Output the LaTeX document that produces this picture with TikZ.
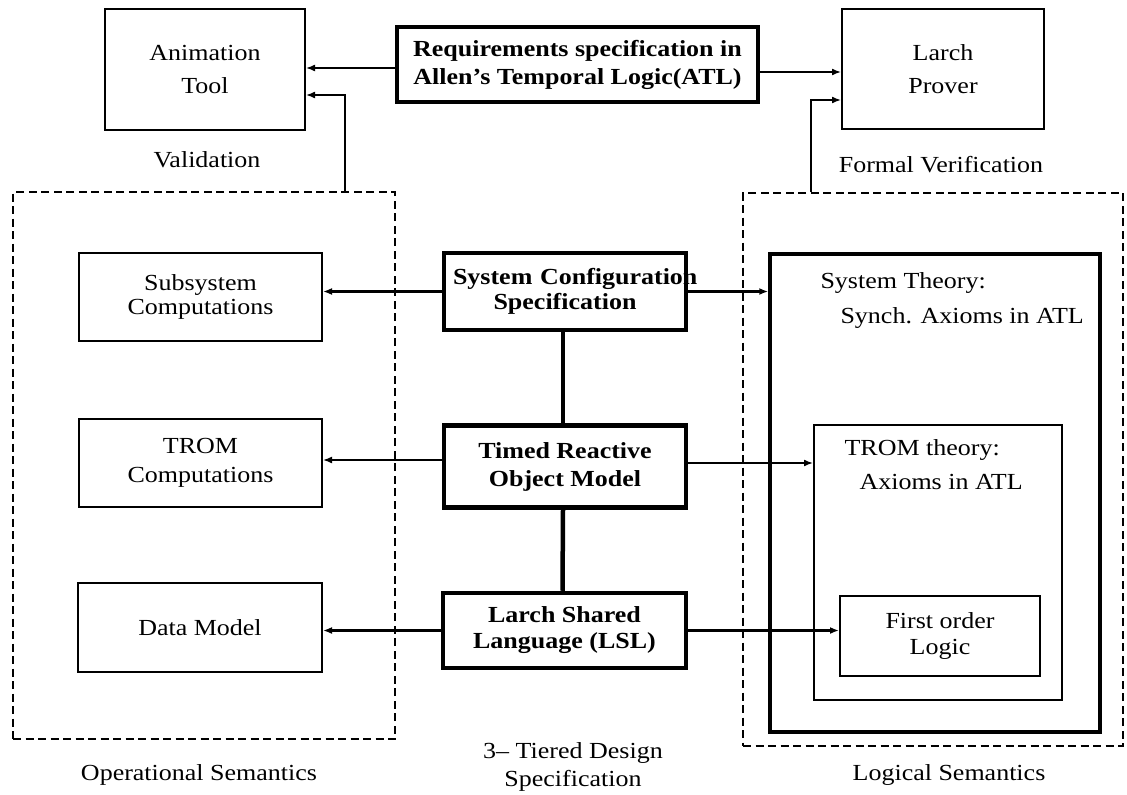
\documentclass[tikz,border=0pt]{standalone}
\usepackage{fontspec}
\setmainfont{Liberation Serif}[FakeStretch=1.13]
\usetikzlibrary{arrows.meta}

\begin{document}
\begin{tikzpicture}[x=1pt,y=-1pt,
  every node/.style={font=\fontsize{23}{25}\selectfont},
  lead/.style={font=\fontsize{23}{#1}\selectfont},
  blead/.style={font=\fontsize{23}{#1}\selectfont\bfseries},
  box/.style={draw,line width=2pt,align=center,inner sep=0pt},
  bbox/.style={box,line width=4.5pt},
  region/.style={draw,line width=2.4pt,dash pattern=on 8pt off 4.5pt,inner sep=0pt},
  conn/.style={line width=1.6pt,-{Latex[length=9pt,width=7pt]}},
  hconn/.style={conn,line width=3.4pt},
  mconn/.style={conn,line width=2.8pt},
  link/.style={line width=4.5pt}
]
\useasboundingbox (0,0) rectangle (1127,795);

% top row: tools and the requirements specification
\node[box,lead=33,minimum width=200pt,minimum height=121pt] (anim) at (205,69.5) {Animation\\Tool};
\node[bbox,blead=28,minimum width=361pt,minimum height=75pt] (req) at (577.5,64.5) {Requirements specification in\\Allen's Temporal Logic(ATL)};
\node[box,lead=33,minimum width=202pt,minimum height=120pt] (larch) at (943,69) {Larch\\Prover};
\node (val) at (207,160) {Validation};
\node (fv) at (941,165) {Formal Verification};

% semantic regions
\node[region,minimum width=382pt,minimum height=547pt] (opsem) at (204,465.5) {};
\node[region,minimum width=380pt,minimum height=553pt] (logsem) at (933,469.5) {};

% operational semantics
\node[box,lead=24,minimum width=243pt,minimum height=88pt] (subsys) at (200.5,297) {Subsystem\\Computations};
\node[box,lead=29,minimum width=243pt,minimum height=88pt] (tromc) at (200.5,463) {TROM\\Computations};
\node[box,minimum width=244pt,minimum height=89pt] (data) at (200,627.5) {Data Model};

% three tiers of the design specification
\node[bbox,blead=25,minimum width=242pt,minimum height=77pt,text width=224pt] (syscfg) at (565,291.5) {\hbox{System Configuration}\\Specification};
\node[bbox,blead=28,minimum width=242pt,minimum height=82pt] (timed) at (565,466.5) {Timed Reactive\\Object Model};
\node[bbox,blead=26,minimum width=243pt,minimum height=75pt] (lsl) at (564.5,630.5) {Larch Shared\\Language (LSL)};

% logical semantics: nested theories
\node[box,line width=3.5pt,minimum width=330pt,minimum height=478pt] (systh) at (935,493) {};
\node[box,minimum width=248pt,minimum height=275pt] (tromth) at (938,562.5) {};
\node[box,lead=26,minimum width=200pt,minimum height=80pt] (fol) at (940,636) {First order\\Logic};
\node[anchor=west] (st1) at (817,283) {System Theory:};
\node[anchor=west] (st2) at (837,318) {Synch. Axioms in ATL};
\node[anchor=west] (tt1) at (841,450) {TROM theory:};
\node[anchor=west] (tt2) at (856,482) {Axioms in ATL};

% captions
\node (ops) at (199,775) {Operational Semantics};
\node[align=center,lead=28] (tier) at (573,767) {3-- Tiered Design\\Specification};
\node (logs) at (949,775) {Logical Semantics};

% connectors of the top row
\coordinate (r1) at ([yshift=-3.5pt]req.west);
\draw[conn] (r1) -- (r1 -| anim.east);
\coordinate (r2) at ([yshift=-7.5pt]req.east);
\draw[conn] (r2) -- (r2 -| larch.west);
\coordinate (v1) at ([xshift=141pt]opsem.north);
\coordinate (v1e) at ([yshift=-25.5pt]anim.east);
\draw[conn] (v1) |- (v1e);
\coordinate (v2) at ([xshift=-122pt]logsem.north);
\coordinate (v2e) at ([yshift=-31pt]larch.west);
\draw[conn] (v2) |- (v2e);

% connectors of the tiers
\draw[hconn] (syscfg.west) -- (syscfg.west -| subsys.east);
\draw[hconn] (syscfg.east) -- (syscfg.east -| systh.west);
\coordinate (t1) at ([yshift=6.5pt]timed.west);
\draw[conn] (t1) -- (t1 -| tromc.east);
\coordinate (t2) at ([yshift=3.5pt]timed.east);
\draw[conn] (t2) -- (t2 -| tromth.west);
\draw[mconn] (lsl.west) -- (lsl.west -| data.east);
\draw[mconn] (lsl.east) -- (lsl.east -| fol.west);
\draw[link] ([xshift=-2pt]syscfg.south) -- ([xshift=-2pt]timed.north);
\draw[link] ([xshift=-2pt]timed.south) -- ([xshift=-2pt]lsl.north);
\end{tikzpicture}
\end{document}
